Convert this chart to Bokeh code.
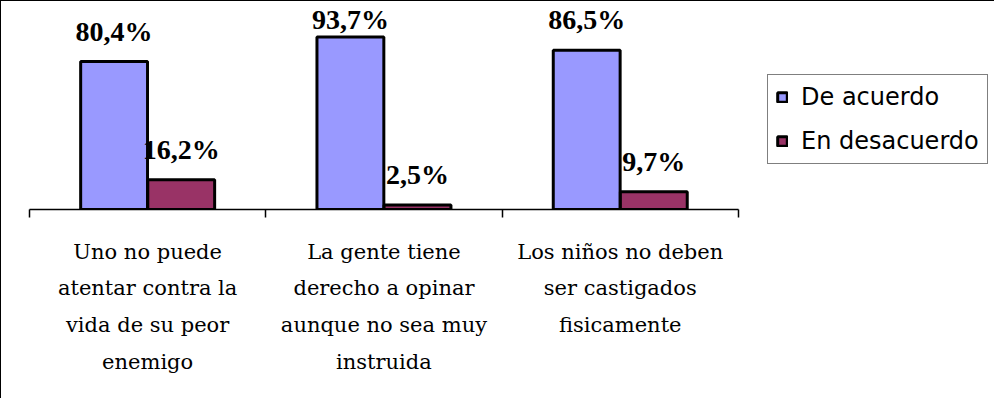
import numpy as np
from bokeh.plotting import figure
from bokeh.models import (ColumnDataSource, Range1d, LinearAxis, FixedTicker,
                          Legend, LegendItem, LabelSet)
from bokeh.embed import file_html
from bokeh.resources import INLINE

# ---- data ----
categories = [
    "Uno no puede\natentar contra la\nvida de su peor\nenemigo",
    "La gente tiene\nderecho a opinar\naunque no sea muy\ninstruida",
    "Los niños no deben\nser castigados\nfisicamente",
]
series_names = ["De acuerdo", "En desacuerdo"]
de_acuerdo = [80.4, 93.7, 86.5]
en_desacuerdo = [16.2, 2.5, 9.7]
colors = ["#9999FF", "#993366"]

def fmt(v):
    return f"{v:.1f}%".replace(".", ",")

n = len(categories)
idx = np.arange(n)
centers = idx + 0.5
bar_w = 0.283
dodge = 0.142
label_cap = 86.4  # labels kept inside the plot area (as Excel does)

src1 = ColumnDataSource(dict(x=centers - dodge, top=de_acuerdo,
                             ly=np.minimum(de_acuerdo, label_cap),
                             lab=[fmt(v) for v in de_acuerdo]))
src2 = ColumnDataSource(dict(x=centers + dodge, top=en_desacuerdo,
                             ly=np.minimum(en_desacuerdo, label_cap),
                             lab=[fmt(v) for v in en_desacuerdo]))

W, H = 994, 398
p = figure(width=W, height=H, output_backend="svg", toolbar_location=None,
           x_axis_type=None, y_axis_type=None,
           x_range=Range1d(-0.1185, 4.088), y_range=Range1d(0, 113.0),
           min_border_left=0, min_border_right=0, min_border_top=0,
           min_border_bottom=190,
           styles={"border-left": "1px solid #000", "border-top": "1px solid #000"})
p.outline_line_color = None
p.background_fill_color = "white"
p.border_fill_color = "white"
p.grid.visible = False

r1 = p.vbar(x="x", top="top", width=bar_w, bottom=0, source=src1,
            fill_color=colors[0], line_color="black", line_width=3)
r2 = p.vbar(x="x", top="top", width=bar_w, bottom=0, source=src2,
            fill_color=colors[1], line_color="black", line_width=3)

for s in (src1, src2):
    p.add_layout(LabelSet(x="x", y="ly", text="lab", source=s, y_offset=21,
                          text_align="center", text_baseline="alphabetic",
                          text_font="Liberation Serif", text_font_style="bold",
                          text_font_size="28px", text_color="black"))

xaxis = LinearAxis(
    ticker=FixedTicker(ticks=list(centers), minor_ticks=list(np.arange(n + 1))),
    bounds=(0, n),
    major_label_overrides={float(c): lab for c, lab in zip(centers, categories)},
    major_tick_out=0, major_tick_in=0,
    minor_tick_out=8, minor_tick_in=0,
    minor_tick_line_color="black", minor_tick_line_width=1.5,
    axis_line_color="black", axis_line_width=1.5,
    major_label_text_font="DejaVu Serif", major_label_text_font_size="21px",
    major_label_text_color="black", major_label_standoff=22,
    major_label_text_line_height=1.54,
)
p.add_layout(xaxis, "below")

legend = Legend(
    items=[LegendItem(label=series_names[0], renderers=[r1]),
           LegendItem(label=series_names[1], renderers=[r2])],
    location=(766, 45), orientation="vertical",
    label_text_font="DejaVu Sans", label_text_font_size="24px",
    label_text_color="black",
    glyph_width=12, glyph_height=12, label_height=28,
    spacing=16, padding=8, margin=0, label_standoff=13,
    border_line_color="black", border_line_width=1,
    background_fill_color="white", background_fill_alpha=1,
)
p.add_layout(legend)

open("out.html", "w").write(file_html(p, INLINE))
